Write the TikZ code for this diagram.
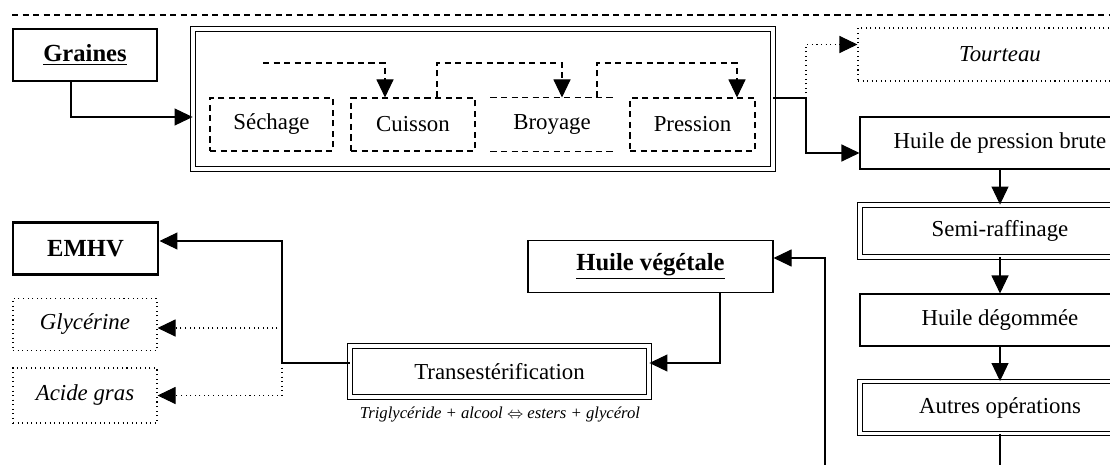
\documentclass[tikz,border=0pt]{standalone}
\usepackage{fontspec}
\setmainfont{Liberation Serif}
\usetikzlibrary{arrows.meta}
\begin{document}
\begin{tikzpicture}[>={Triangle[length=0.36cm,width=0.34cm]},line width=0.6pt,
    box/.style={draw,minimum height=1.04cm,inner sep=2pt,font=\fontsize{13}{15}\selectfont},
    dbox/.style={box,double,double distance=2pt,line width=0.5pt},
    dashbox/.style={box,dash pattern=on 3.5pt off 2.5pt},
    dotbox/.style={box,dotted,font=\fontsize{13}{15}\selectfont\itshape},
    dsh/.style={dash pattern=on 3.5pt off 2.5pt}]
\useasboundingbox (0,0) rectangle (22.2,-9.3);
\clip (0,0) rectangle (22.2,-9.3);
\draw[dsh] (0.24,-0.3)--(22.2,-0.3);
% colonne de gauche
\path (1.70,-1.10) node[box,minimum width=2.88cm,font=\fontsize{14}{16}\selectfont\bfseries] (gr) {\underline{Graines}}
      (1.71,-4.97) node[box,minimum width=2.9cm,line width=1.7pt,font=\fontsize{14}{16}\selectfont\bfseries] (emhv) {EMHV}
      (1.70,-6.49) node[dotbox,minimum width=2.88cm] (gly) {Glycérine}
      (1.70,-7.91) node[dotbox,minimum width=2.88cm,minimum height=1.1cm] (ag) {Acide gras};
% bloc de trituration
\node[dbox,minimum width=11.6cm,minimum height=2.8cm] (trit) at (9.66,-1.98) {};
\path foreach \n/\x/\w/\t in {sec/5.43/2.46/Séchage,cui/8.26/2.48/Cuisson,pre/13.85/2.5/Pression}
      {(\x,-2.49) node[dashbox,minimum width=\w cm,minimum height=1.06cm] (\n) {\t}};
\node[box,draw=none,minimum width=2.44cm,minimum height=1.06cm] (bro) at (11.04,-2.49) {Broyage};
\draw[dsh] (bro.north west)--(bro.north east) (bro.south west)--(bro.south east);
\coordinate (s0) at (5.26,-1.26);
\draw[dsh,->] (s0) -| ([xshift=-0.56cm]cui.north);
\draw[dsh,->] ([xshift=0.48cm]cui.north) |- (9.5,-1.26) -| ([xshift=0.2cm]bro.north);
\draw[dsh,->] ([xshift=0.9cm]bro.north) |- (13,-1.26) -| ([xshift=0.89cm]pre.north);
% colonne de droite
\node[dotbox,minimum width=5.68cm,minimum height=1.06cm] (tou) at (20.0,-1.09) {Tourteau};
\path foreach \n/\y/\s/\t in {hpb/-2.86/box/Huile de pression brute,semi/-4.62/dbox/Semi-raffinage,
      deg/-6.40/box/Huile dégommée,aut/-8.15/dbox/Autres opérations}
      {(20.0,\y) node[\s,minimum width=5.6cm] (\n) {\t}};
\foreach \a/\b in {hpb/semi,semi/deg,deg/aut} \draw[->] (\a)--(\b);
\coordinate (bas) at (20.0,-9.5);
\draw (aut)--(bas);
\coordinate (j1) at (16.12,-1.96);
\draw (trit.east|-j1)--(j1);
\draw[dotted,->] (j1) |- ([yshift=0.2cm]tou.west);
\draw[->] (j1) |- ([yshift=-0.2cm]hpb.west);
\draw[->] (gr.south-|1.42,0) |- ([yshift=-0.36cm]trit.west);
% transesterification
\node[box,minimum width=4.9cm,font=\fontsize{14}{16}\selectfont\bfseries] (hv) at (13.01,-5.33) {\underline{Huile végétale}};
\node[dbox,minimum width=5.98cm,minimum height=1.02cm] (tr) at (9.99,-7.43) {Transestérification};
\node[font=\fontsize{9.5}{11}\selectfont\itshape] (eq) at (10.0,-8.28) {Triglycéride + alcool $\Leftrightarrow$ esters + glycérol};
\coordinate (bas2) at (16.5,-9.5);
\draw[->] (bas2) |- ([yshift=0.17cm]hv.east);
\draw[->] ([xshift=1.39cm]hv.south) |- ([yshift=0.17cm]tr.east);
\coordinate (j2) at (5.64,-7.26);
\draw[->] ([yshift=0.17cm]tr.west) -- (j2) |- ([yshift=0.15cm]emhv.east);
\draw[dotted,->] (5.64,-6.56) -- (gly.east|-0,-6.56);
\draw[dotted,->] (j2) |- (ag.east);
\end{tikzpicture}
\end{document}
